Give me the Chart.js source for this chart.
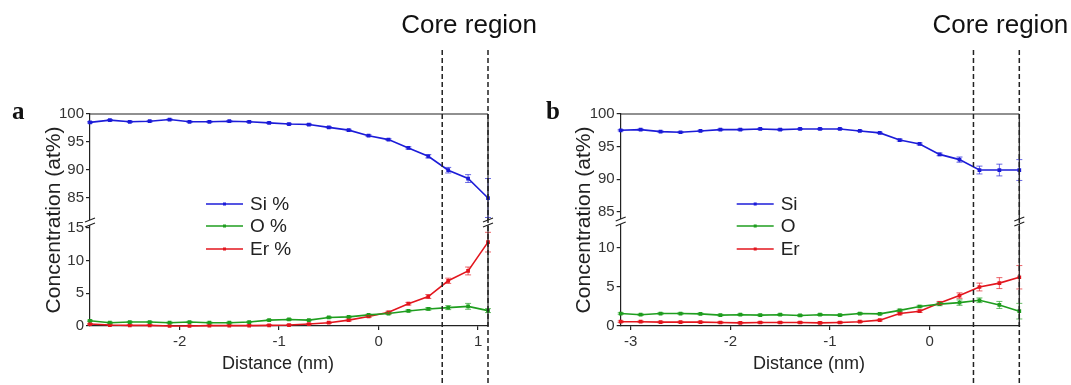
<!DOCTYPE html>
<html>
<head>
<meta charset="utf-8">
<script src="https://cdn.jsdelivr.net/npm/chart.js@4/dist/chart.umd.min.js"></script>
<style>
  html, body { margin: 0; padding: 0; background: #fff; }
  #wrap { position: relative; width: 1071px; height: 385px; overflow: hidden; background: #fff; }
  .panel { position: absolute; top: 0; height: 385px; }
</style>
</head>
<body>
<div id="wrap">
  <div class="panel" style="left:0;width:545px"><canvas id="chartA" width="545" height="385"></canvas></div>
  <div class="panel" style="left:530px;width:541px"><canvas id="chartB" width="541" height="385"></canvas></div>
</div>
<script>
// ---- panel a data ----
const xA = [-2.9, -2.7, -2.5, -2.3, -2.1, -1.9, -1.7, -1.5, -1.3, -1.1, -0.9, -0.7, -0.5, -0.3, -0.1, 0.1, 0.3, 0.5, 0.7, 0.9, 1.1];
const siA = [98.5, 98.9, 98.6, 98.7, 99.0, 98.6, 98.6, 98.7, 98.6, 98.4, 98.2, 98.1, 97.6, 97.1, 96.1, 95.4, 93.9, 92.4, 89.9, 88.4, 84.9];
const siAErr = [0.12, 0.12, 0.12, 0.12, 0.12, 0.12, 0.12, 0.12, 0.12, 0.12, 0.12, 0.12, 0.12, 0.15, 0.15, 0.15, 0.2, 0.3, 0.5, 0.7, 3.5];
const oA = [0.8, 0.5, 0.6, 0.6, 0.5, 0.6, 0.5, 0.5, 0.6, 0.9, 1.0, 0.9, 1.3, 1.4, 1.7, 1.9, 2.3, 2.6, 2.8, 3.0, 2.35];
const oAErr = [0.1, 0.1, 0.1, 0.1, 0.1, 0.1, 0.1, 0.1, 0.1, 0.1, 0.1, 0.1, 0.1, 0.1, 0.1, 0.15, 0.15, 0.2, 0.3, 0.45, 0.3];
const erA = [0.3, 0.15, 0.1, 0.1, 0.0, 0.0, 0.05, 0.05, 0.05, 0.1, 0.15, 0.3, 0.5, 0.9, 1.45, 2.1, 3.4, 4.5, 6.9, 8.4, 12.8];
const erAErr = [0.1, 0.1, 0.1, 0.1, 0.1, 0.1, 0.1, 0.1, 0.1, 0.1, 0.1, 0.1, 0.1, 0.15, 0.15, 0.15, 0.2, 0.3, 0.4, 0.6, 1.5];
const coreA = [0.64, 1.1];
const xTicksA = [-2, -1, 0, 1];
const lowTicksA = [0, 5, 10, 15];

// ---- panel b data ----
const xB = [-3.1, -2.9, -2.7, -2.5, -2.3, -2.1, -1.9, -1.7, -1.5, -1.3, -1.1, -0.9, -0.7, -0.5, -0.3, -0.1, 0.1, 0.3, 0.5, 0.7, 0.9];
const siB = [97.5, 97.6, 97.3, 97.2, 97.4, 97.6, 97.6, 97.7, 97.6, 97.7, 97.7, 97.7, 97.4, 97.1, 96.0, 95.4, 93.8, 93.0, 91.4, 91.4, 91.4];
const siBErr = [0.1, 0.1, 0.1, 0.1, 0.1, 0.1, 0.1, 0.1, 0.1, 0.1, 0.1, 0.1, 0.1, 0.1, 0.15, 0.15, 0.2, 0.4, 0.6, 0.9, 1.6];
const oB = [1.6, 1.45, 1.6, 1.6, 1.55, 1.4, 1.45, 1.4, 1.45, 1.35, 1.45, 1.4, 1.6, 1.55, 2.0, 2.5, 2.8, 3.0, 3.3, 2.7, 1.9];
const oBErr = [0.1, 0.1, 0.1, 0.1, 0.1, 0.1, 0.1, 0.1, 0.1, 0.1, 0.1, 0.1, 0.1, 0.1, 0.15, 0.15, 0.2, 0.35, 0.3, 0.45, 1.0];
const erB = [0.55, 0.55, 0.5, 0.5, 0.5, 0.45, 0.4, 0.45, 0.45, 0.45, 0.4, 0.45, 0.55, 0.75, 1.6, 1.9, 2.95, 3.9, 5.0, 5.5, 6.25];
const erBErr = [0.1, 0.1, 0.1, 0.1, 0.1, 0.1, 0.1, 0.1, 0.1, 0.1, 0.1, 0.1, 0.1, 0.1, 0.15, 0.15, 0.2, 0.35, 0.5, 0.7, 1.5];
const coreB = [0.44, 0.9];
const xTicksB = [-3, -2, -1, 0];
const lowTicksB = [0, 5, 10];

const highTicks = [85, 90, 95, 100];

const SI_COLOR = '#1c1cd8';
const O_COLOR = '#1f9e1f';
const ER_COLOR = '#e3161e';

Chart.defaults.font.family = '"Liberation Sans", Arial, sans-serif';
Chart.defaults.color = '#333';

// error bars, clipped to each dataset's own y band
const errorBars = {
  id: 'errorBars',
  afterDatasetsDraw(chart) {
    const ctx = chart.ctx;
    chart.data.datasets.forEach((d, i) => {
      const meta = chart.getDatasetMeta(i);
      const ys = chart.scales[d.yAxisID];
      ctx.save();
      ctx.beginPath();
      ctx.rect(chart.chartArea.left - 6, ys.top, chart.chartArea.right - chart.chartArea.left + 12, ys.bottom - ys.top);
      ctx.clip();
      ctx.strokeStyle = d.errColor;
      ctx.lineWidth = 1;
      d.data.forEach((pt, j) => {
        const e = d.errors[j];
        if (!e) return;
        const px = meta.data[j].x;
        const y1 = ys.getPixelForValue(pt.y + e);
        const y2 = ys.getPixelForValue(pt.y - e);
        ctx.beginPath();
        ctx.moveTo(px, y1); ctx.lineTo(px, y2);
        ctx.moveTo(px - 3, y1); ctx.lineTo(px + 3, y1);
        ctx.moveTo(px - 3, y2); ctx.lineTo(px + 3, y2);
        ctx.stroke();
      });
      ctx.restore();
    });
  }
};

function drawBreak(ctx, x, y) {
  ctx.save();
  ctx.fillStyle = '#fff';
  ctx.fillRect(x - 2, y - 2.5, 4, 5);
  ctx.strokeStyle = '#222';
  ctx.lineWidth = 1.2;
  ctx.beginPath();
  ctx.moveTo(x - 5, y - 0.5); ctx.lineTo(x + 5, y - 4.5);
  ctx.moveTo(x - 5, y + 4.5); ctx.lineTo(x + 5, y + 0.5);
  ctx.stroke();
  ctx.restore();
}

// frame, axis breaks, legend, titles, core region markers
const decor = {
  id: 'decor',
  afterDraw(chart, args, opts) {
    const ctx = chart.ctx;
    const a = chart.chartArea;
    const xs = chart.scales.x;
    const breakY = chart.scales.yTop.bottom;

    ctx.save();
    ctx.strokeStyle = '#222';
    ctx.lineWidth = 1.2;
    ctx.beginPath();
    ctx.moveTo(a.left, a.top); ctx.lineTo(a.right, a.top);
    ctx.moveTo(a.right, a.top); ctx.lineTo(a.right, a.bottom);
    ctx.stroke();
    ctx.restore();

    drawBreak(ctx, a.left, breakY);
    drawBreak(ctx, a.right, breakY);

    // legend
    ctx.save();
    chart.data.datasets.forEach((d, i) => {
      const y = opts.legendY[i];
      const x0 = a.left + opts.legendDX;
      ctx.strokeStyle = d.borderColor;
      ctx.lineWidth = 1.6;
      ctx.beginPath();
      ctx.moveTo(x0, y); ctx.lineTo(x0 + 37, y);
      ctx.stroke();
      ctx.fillStyle = d.borderColor;
      ctx.fillRect(x0 + 17, y - 1.5, 3, 3);
      ctx.fillStyle = '#222';
      ctx.font = '19px "Liberation Sans", Arial, sans-serif';
      ctx.textBaseline = 'middle';
      ctx.textAlign = 'left';
      ctx.fillText(d.label, x0 + 44, y + 1);
    });
    ctx.restore();

    // dashed core region lines
    const px = opts.core.map(v => xs.getPixelForValue(v));
    ctx.save();
    ctx.strokeStyle = '#222';
    ctx.lineWidth = 1.5;
    ctx.setLineDash([5, 3]);
    px.forEach(p => {
      ctx.beginPath();
      ctx.moveTo(p, 50); ctx.lineTo(p, 385);
      ctx.stroke();
    });
    ctx.restore();

    ctx.save();
    ctx.fillStyle = '#111';
    ctx.font = '26px "Liberation Sans", Arial, sans-serif';
    ctx.textAlign = 'center';
    ctx.textBaseline = 'alphabetic';
    ctx.fillText('Core region', (px[0] + px[1]) / 2 + 4, 33);

    // x axis title
    ctx.fillStyle = '#222';
    ctx.font = '18px "Liberation Sans", Arial, sans-serif';
    ctx.textBaseline = 'middle';
    ctx.fillText('Distance (nm)', (a.left + a.right) / 2 - 11, 364);

    ctx.font = 'bold 25px "Liberation Serif", "Times New Roman", serif';
    ctx.textAlign = 'left';
    ctx.textBaseline = 'alphabetic';
    ctx.fillStyle = '#111';
    ctx.fillText(opts.letter, opts.letterX, 119);

    // y axis title across both stacked bands
    ctx.translate(54, (a.top + a.bottom) / 2);
    ctx.rotate(-Math.PI / 2);
    ctx.font = '21px "Liberation Sans", Arial, sans-serif';
    ctx.textAlign = 'center';
    ctx.textBaseline = 'middle';
    ctx.fillStyle = '#222';
    ctx.fillText('Concentration (at%)', 0, 0);
    ctx.restore();
  }
};

function series(label, xs, ys, errs, color, axis) {
  return {
    label: label,
    data: xs.map((x, i) => ({ x: x, y: ys[i] })),
    errors: errs,
    errColor: color + 'aa',
    yAxisID: axis,
    borderColor: color,
    backgroundColor: color,
    borderWidth: 1.6,
    pointStyle: 'rect',
    pointRadius: 1.5,
    pointHoverRadius: 1.5,
    tension: 0,
    clip: 3
  };
}

function yAxis(min, max, ticks, weight, stackWeight, width) {
  return {
    type: 'linear',
    position: 'left',
    stack: 'conc',
    weight: weight,
    stackWeight: stackWeight,
    min: min,
    max: max,
    afterBuildTicks: s => { s.ticks = ticks.map(v => ({ value: v })); },
    afterFit: s => { s.width = width; },
    grid: { display: true, drawOnChartArea: false, drawTicks: true, tickLength: 4, color: '#222', lineWidth: 1.2 },
    border: { display: true, color: '#222', width: 1.2 },
    ticks: { color: '#333', font: { size: 15 }, padding: 2, autoSkip: false }
  };
}

function makePanel(id, p) {
  const ctx = document.getElementById(id).getContext('2d');
  return new Chart(ctx, {
    type: 'line',
    data: {
      datasets: [
        series(p.labels[0], p.x, p.si, p.siErr, SI_COLOR, 'yTop'),
        series(p.labels[1], p.x, p.o, p.oErr, O_COLOR, 'yBot'),
        series(p.labels[2], p.x, p.er, p.erErr, ER_COLOR, 'yBot')
      ]
    },
    options: {
      responsive: false,
      animation: false,
      layout: { padding: { left: 0, right: p.padRight, top: 114, bottom: 0 } },
      plugins: {
        legend: { display: false },
        tooltip: { enabled: false },
        decor: { core: p.core, letter: p.letter, letterX: p.letterX, legendDX: 116, legendY: [204, 226, 249] }
      },
      scales: {
        x: {
          type: 'linear',
          min: p.xMin,
          max: p.xMax,
          afterBuildTicks: s => { s.ticks = p.xTicks.map(v => ({ value: v })); },
          afterFit: s => { s.height = 59; },
          grid: { display: true, drawOnChartArea: false, drawTicks: true, tickLength: 4, color: '#222', lineWidth: 1.2 },
          border: { display: true, color: '#222', width: 1.2 },
          ticks: { color: '#333', font: { size: 15 }, padding: 3, maxRotation: 0 }
        },
        yTop: yAxis(p.topMin, 100, highTicks, 2, p.topWeight, p.yWidth),
        yBot: yAxis(0, p.botMax, p.lowTicks, 1, p.botWeight, p.yWidth)
      }
    },
    plugins: [errorBars, decor]
  });
}

makePanel('chartA', {
  labels: ['Si %', 'O %', 'Er %'],
  x: xA, si: siA, siErr: siAErr, o: oA, oErr: oAErr, er: erA, erErr: erAErr,
  core: coreA, xTicks: xTicksA, lowTicks: lowTicksA,
  xMin: -2.9, xMax: 1.1, topMin: 80.5, botMax: 15.8,
  topWeight: 108.5, botWeight: 103.5,
  yWidth: 90, padRight: 57, letter: 'a', letterX: 12
});

makePanel('chartB', {
  labels: ['Si', 'O', 'Er'],
  x: xB, si: siB, siErr: siBErr, o: oB, oErr: oBErr, er: erB, erErr: erBErr,
  core: coreB, xTicks: xTicksB, lowTicks: lowTicksB,
  xMin: -3.1, xMax: 0.9, topMin: 83.5, botMax: 13.4,
  topWeight: 107.5, botWeight: 104.5,
  yWidth: 90.7, padRight: 51.7, letter: 'b', letterX: 16
});
</script>
</body>
</html>
